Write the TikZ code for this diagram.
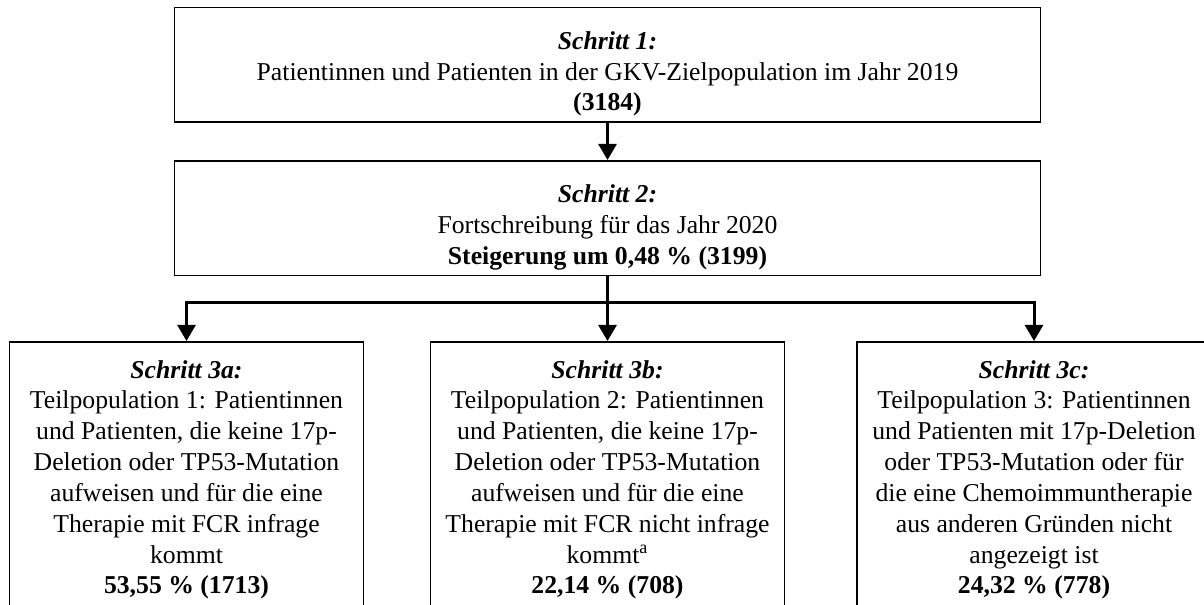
\documentclass[tikz,border=0pt]{standalone}
\usepackage{fontspec}
\setmainfont{Liberation Serif}
\usetikzlibrary{arrows.meta}
\newcommand{\pxu}{0.529pt}
\newcommand{\toppad}{\rule{0pt}{19.1pt}}
\begin{document}
\begin{tikzpicture}[x=\pxu,y=-\pxu,
  box/.style={draw,line width=0.8pt,align=center,inner sep=0pt,font=\fontsize{13.6}{16.3}\selectfont},
  mainbox/.style={box,minimum width=866*\pxu,minimum height=114.5*\pxu},
  subbox/.style={box,anchor=north,minimum width=354*\pxu,inner ysep=9.8pt},
  conn/.style={line width=1.6pt},
  arr/.style={conn,-{Triangle[length=8.5pt,width=9.5pt]}}]
\useasboundingbox (0,0) rectangle (1204,604);
\clip (0,0) rectangle (1204,604);
\node[mainbox] (s1) at (607.5,64.75)
  {\toppad\textbf{\textit{Schritt 1:}}\\Patientinnen und Patienten in der GKV-Zielpopulation im Jahr 2019\\\textbf{(3184)}};
\node[mainbox] (s2) at (607.5,218)
  {\toppad\textbf{\textit{Schritt 2:}}\\Fortschreibung für das Jahr 2020\\\textbf{Steigerung um 0,48 \% (3199)}};
\node[subbox] (s3a) at (186.5,341)
  {\textbf{\textit{Schritt 3a:}}\\Teilpopulation 1: Patientinnen\\und Patienten, die keine 17p-\\Deletion oder TP53-Mutation\\aufweisen und für die eine\\Therapie mit FCR infrage\\kommt\\\textbf{53,55 \% (1713)}};
\node[subbox] (s3b) at (607.5,341)
  {\textbf{\textit{Schritt 3b:}}\\Teilpopulation 2: Patientinnen\\und Patienten, die keine 17p-\\Deletion oder TP53-Mutation\\aufweisen und für die eine\\Therapie mit FCR nicht infrage\\kommt\textsuperscript{a}\\\textbf{22,14 \% (708)}};
\node[subbox] (s3c) at (1034,341)
  {\textbf{\textit{Schritt 3c:}}\\Teilpopulation 3: Patientinnen\\und Patienten mit 17p-Deletion\\oder TP53-Mutation oder für\\die eine Chemoimmuntherapie\\aus anderen Gründen nicht\\angezeigt ist\\\textbf{24,32 \% (778)}};
\coordinate (fork) at (607.5,302);

\draw[arr] (s1) -- (s2);
\draw[conn] (s2) -- (fork);
\draw[arr] (fork) -| (s3a);
\draw[arr] (fork) -- (s3b);
\draw[arr] (fork) -| (s3c);
\end{tikzpicture}
\end{document}
